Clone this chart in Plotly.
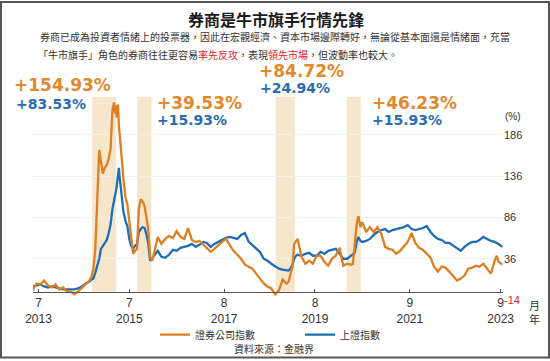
import plotly.graph_objects as go

# ---------------- data ----------------
dates = [
    '2013-05-15', '2013-06-15', '2013-07-15', '2013-08-15', '2013-09-15', '2013-10-15', '2013-11-15', '2013-12-15',
    '2014-01-15', '2014-02-15', '2014-03-15', '2014-04-15', '2014-05-15', '2014-06-15', '2014-07-15', '2014-08-15',
    '2014-09-01', '2014-09-15', '2014-10-01', '2014-10-15', '2014-11-01', '2014-11-15', '2014-12-01', '2014-12-15',
    '2015-01-01', '2015-01-15', '2015-02-01', '2015-02-15', '2015-03-01', '2015-03-08', '2015-03-15', '2015-03-22',
    '2015-04-01', '2015-04-08', '2015-04-15', '2015-05-01', '2015-05-15', '2015-06-01', '2015-06-15', '2015-07-01',
    '2015-07-15', '2015-08-01', '2015-08-15', '2015-09-01', '2015-09-15', '2015-10-01', '2015-10-15', '2015-11-01',
    '2015-11-15', '2015-12-01', '2015-12-15',
    '2016-01-01', '2016-01-15', '2016-02-15', '2016-03-15', '2016-04-15', '2016-05-15', '2016-06-15', '2016-07-15',
    '2016-08-15', '2016-09-15', '2016-10-15', '2016-11-15', '2016-12-15',
    '2017-01-15', '2017-02-15', '2017-03-15', '2017-04-15', '2017-05-15', '2017-06-15', '2017-07-15', '2017-08-15',
    '2017-09-15', '2017-10-15', '2017-11-15', '2017-12-15',
    '2018-01-15', '2018-02-15', '2018-03-15', '2018-04-15', '2018-05-15', '2018-06-15', '2018-07-15', '2018-08-15',
    '2018-09-15', '2018-10-15', '2018-11-15', '2018-12-15',
    '2019-01-01', '2019-01-15', '2019-02-01', '2019-02-15', '2019-03-01', '2019-03-15', '2019-04-15', '2019-05-15',
    '2019-06-15', '2019-07-15', '2019-08-15', '2019-09-15', '2019-10-15', '2019-11-15', '2019-12-15',
    '2020-01-15', '2020-02-15', '2020-03-15', '2020-04-15', '2020-05-15', '2020-06-01', '2020-06-15', '2020-07-01',
    '2020-07-15', '2020-08-01', '2020-08-15', '2020-09-15', '2020-10-15', '2020-11-15', '2020-12-15',
    '2021-01-15', '2021-02-15', '2021-03-15', '2021-04-15', '2021-05-15', '2021-06-15', '2021-07-15', '2021-08-15',
    '2021-09-15', '2021-10-15', '2021-11-15', '2021-12-15',
    '2022-01-15', '2022-02-15', '2022-03-15', '2022-04-15', '2022-05-15', '2022-06-15', '2022-07-15', '2022-08-15',
    '2022-09-15', '2022-10-15', '2022-11-15', '2022-12-15',
    '2023-01-15', '2023-02-15', '2023-03-15', '2023-04-15', '2023-05-15', '2023-06-15', '2023-07-15', '2023-08-01',
    '2023-08-15', '2023-09-14',
]

# 證券公司指數 (%)
broker_index = [
    -2.4, 6, 4.8, 9.6, 3.6, 1.2, 4.8, -1.2,
    1.2, -3.6, -3.6, -7.2, -3.6, 1.2, 6, 9.6,
    14.4, 24, 48, 114, 168, 153.6, 139, 146,
    150, 156, 170, 216, 225.6, 212, 222, 207,
    223, 198, 182, 158, 132, 110, 102, 81.6,
    66, 42, 45.6, 48, 96, 108, 105.6, 99.6,
    86.4, 69.6, 38.4,
    33.6, 42, 62.4, 54, 60, 63.6, 61, 69.6,
    62.4, 60, 73.2, 58.8, 56.4,
    57.6, 52.8, 48, 44.4, 48, 52.8, 56.4, 60,
    52.8, 45.6, 40.8, 36,
    28.8, 26.4, 24, 18, 12, 6, 2.4, 0,
    -7.2, -2.4, 10.8, 6,
    8.4, 15.6, 26.4, 54, 57.6, 60, 38.4, 30,
    33.6, 30, 39.6, 39.6, 32.4, 27.6, 36,
    39.6, 49.2, 27.6, 30, 28.8, 30, 50.4, 78,
    87.6, 74.4, 80.4, 68.4, 74.4, 68.4, 74.4,
    66, 50.4, 48, 46.8, 42, 45.6, 51.6, 56.4,
    67.2, 55.2, 49.2, 46.8,
    42, 37.2, 26.4, 20.4, 26.4, 25.2, 20.4, 15.6,
    9.6, 12, 15.6, 24,
    25.2, 27.6, 26.4, 30, 24, 18, 33.6, 39.6,
    32.4, 28.8,
]

# 上證指數 (%)
sse_index = [
    2.4, 3.6, 4.8, 2.4, 1.2, 2.4, 1.2, 0,
    -1.2, -1.2, -1.2, -1.2, 0, 2.4, 6, 8.4,
    10.8, 12, 19.2, 26.4, 36, 48, 51.6, 55.2,
    58.8, 66, 78, 96, 105.6, 110, 117.6, 124,
    140, 146, 134, 114, 92.4, 81.6, 75.6, 60,
    51.6, 48, 51.6, 54, 68.4, 72, 74.4, 73.2,
    66, 54, 33.6,
    36, 39.6, 45.6, 38.4, 37.2, 40.8, 46.8, 45.6,
    49.2, 50.4, 51.6, 54, 50.4,
    52.8, 56.4, 55.2, 50.4, 54, 56.4, 58.8, 61.2,
    62.4, 61.2, 60, 64.8,
    67.2, 56.4, 52.8, 49.2, 44.4, 36, 33.6, 30,
    26.4, 24, 22.8, 21.6,
    21.6, 24, 28.8, 36, 39.6, 40.8, 39.6, 42,
    43.2, 39.6, 39.6, 44.4, 42, 45.6, 46.8,
    48, 42, 36, 36, 39.6, 40.8, 43.2, 56.4,
    62.4, 57.6, 56.4, 57.6, 60, 64.8, 68.4,
    70.8, 72, 68.4, 70.8, 72, 73.2, 74.4, 76.8,
    72, 70.8, 72, 73.2,
    75.6, 68.4, 63.6, 60, 58.8, 55.2, 55.2, 51.6,
    48, 45.6, 50.4, 54,
    56.4, 56.4, 58.8, 62.4, 60, 57.6, 56.4, 55.2,
    54, 50.4,
]

assert len(dates) == len(broker_index) == len(sse_index)

# shaded rally periods
band_starts = ['2014-09-06', '2015-09-03', '2018-09-19', '2020-04-13']
band_ends = ['2015-03-17', '2015-12-25', '2019-02-20', '2020-08-03']
broker_gains = ['+154.93%', '+39.53%', '+84.72%', '+46.23%']
sse_gains = ['+83.53%', '+15.93%', '+24.94%', '+15.93%']

x_tick_vals = ['2013-07-01', '2015-07-01', '2017-08-01', '2019-08-01', '2021-09-01', '2023-09-01']
x_tick_text = ['7<br>2013', '7<br>2015', '8<br>2017', '8<br>2019', '9<br>2021', '9<br>2023']
y_tick_vals = [-14, 36, 86, 136, 186]
y_tick_text = ['<span style="color:#d7262b">-14</span>', '36', '86', '136', '186']

title = '券商是牛市旗手行情先鋒'
subtitle_1 = '券商已成為投資者情緒上的投票器，因此在宏觀經濟、資本市場邊際轉好，無論從基本面還是情緒面，充當'
subtitle_2 = ('「牛市旗手」角色的券商往往更容易<span style="color:#d7262b">率先反攻</span>，表現'
              '<span style="color:#d7262b">領先市場</span>，但波動率也較大。')
source = '資料來源：金融界'

# ---------------- style ----------------
ORANGE = '#de7f22'
BLUE = '#1f6db6'
ORANGE_TXT = '#e0892e'
BLUE_TXT = '#2a6cb0'
BAND = '#f5e6cc'
CJK = 'Noto Sans CJK TC, Noto Sans CJK SC, sans-serif'
NUM = 'Liberation Sans, Arial, sans-serif'

Y_MIN, Y_MAX = -14, 232
AXIS_Y = -4

fig = go.Figure()

for s, e in zip(band_starts, band_ends):
    fig.add_shape(type='rect', xref='x', yref='y', x0=s, x1=e, y0=AXIS_Y, y1=Y_MAX,
                  fillcolor=BAND, line_width=0, layer='below')

fig.add_trace(go.Scatter(x=dates, y=sse_index, mode='lines', name='上證指數',
                         line=dict(color=BLUE, width=2.3)))
fig.add_trace(go.Scatter(x=dates, y=broker_index, mode='lines', name='證券公司指數',
                         line=dict(color=ORANGE, width=2.3)))

W, H = 550, 361
L, R, T, B = 33, 47, 97, 59
pw, ph = W - L - R, H - T - B


def px(x):
    return (x - L) / pw


def py(y):
    return (H - B - y) / ph


annos = []
annos.append(dict(text='<b>' + title + '</b>', x=px(276), y=py(18), xref='paper', yref='paper',
                  showarrow=False, xanchor='center', yanchor='middle',
                  font=dict(family=CJK, size=16, color='#1a1a1a')))
annos.append(dict(text=subtitle_1, x=px(38), y=py(36), xref='paper', yref='paper',
                  showarrow=False, xanchor='left', yanchor='middle',
                  font=dict(family=CJK, size=10, color='#333333')))
annos.append(dict(text=subtitle_2, x=px(36), y=py(54), xref='paper', yref='paper',
                  showarrow=False, xanchor='left', yanchor='middle',
                  font=dict(family=CJK, size=10, color='#333333')))

gain_pos = [(12, 85, 14, 104), (155, 103, 155, 120), (257, 71, 258, 88), (370, 103, 370, 120)]
for gb, gs, (x1, y1, x2, y2) in zip(broker_gains, sse_gains, gain_pos):
    annos.append(dict(text='<b>' + gb + '</b>', x=px(x1), y=py(y1), xref='paper', yref='paper',
                      showarrow=False, xanchor='left', yanchor='middle',
                      font=dict(family='DejaVu Sans', size=17, color=ORANGE_TXT)))
    annos.append(dict(text='<b>' + gs + '</b>', x=px(x2), y=py(y2), xref='paper', yref='paper',
                      showarrow=False, xanchor='left', yanchor='middle',
                      font=dict(family='DejaVu Sans', size=14, color=BLUE_TXT)))

annos.append(dict(text='(%)', x=px(513), y=py(117), xref='paper', yref='paper',
                  showarrow=False, xanchor='center', yanchor='middle',
                  font=dict(family=NUM, size=10, color='#333333')))
annos.append(dict(text='月<br>年', x=px(534), y=py(297), xref='paper', yref='paper',
                  showarrow=False, xanchor='center', yanchor='top',
                  font=dict(family=CJK, size=11, color='#333333')))
annos.append(dict(text=source, x=px(274), y=py(351), xref='paper', yref='paper',
                  showarrow=False, xanchor='center', yanchor='middle',
                  font=dict(family=CJK, size=10, color='#333333')))

# outer frame
fig.add_shape(type='rect', xref='paper', yref='paper',
              x0=px(1), x1=px(549), y0=py(360), y1=py(1),
              line=dict(color='#555555', width=2), fillcolor='rgba(0,0,0,0)', layer='above')

fig.update_layout(
    width=W, height=H,
    margin=dict(l=L, r=R, t=T, b=B, pad=0),
    paper_bgcolor='white', plot_bgcolor='white',
    font=dict(family=NUM, color='#333333'),
    showlegend=True,
    legend=dict(orientation='h', x=px(155), y=py(337), xanchor='left', yanchor='middle',
                font=dict(family=CJK, size=10, color='#333333'), traceorder='reversed',
                entrywidth=100, bgcolor='rgba(0,0,0,0)'),
    annotations=annos,
    xaxis=dict(type='date', range=['2013-05-18', '2023-09-20'],
               tickvals=x_tick_vals, ticktext=x_tick_text,
               anchor='free', position=(AXIS_Y - Y_MIN) / (Y_MAX - Y_MIN),
               showline=True, linecolor='#555555', linewidth=1,
               ticks='inside', ticklen=3, tickcolor='#555555',
               showgrid=False, zeroline=False,
               tickfont=dict(family=NUM, size=12, color='#333333')),
    yaxis=dict(range=[Y_MIN, Y_MAX], side='right', tickvals=y_tick_vals, ticktext=y_tick_text,
               showgrid=True, gridcolor='#f0f0f0', zeroline=False, showline=False, ticks='',
               tickfont=dict(family=NUM, size=11, color='#333333')),
)

# remove the page's default body margin so the 550x361 figure fills the window exactly
fig.write_html('out.html', config={'displayModeBar': False},
               post_script="document.body.style.margin='0px';")
